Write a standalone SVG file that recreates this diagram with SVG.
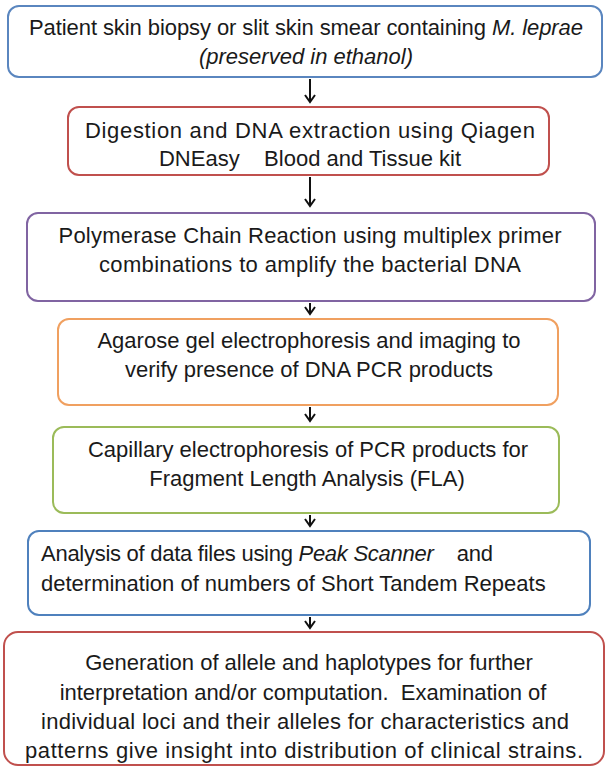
<svg xmlns="http://www.w3.org/2000/svg" width="608" height="769" viewBox="0 0 608 769">
<defs>
<marker id="ah" markerWidth="12" markerHeight="12" refX="10" refY="6" orient="auto" markerUnits="userSpaceOnUse">
<path d="M3,1 L10,6 L3,11" fill="none" stroke="#111" stroke-width="2"/>
</marker>
</defs>
<style>
.box{fill:#fff;stroke-width:2}
text{font-family:"Liberation Sans",Arial,sans-serif;font-size:22px;fill:#1a1a1a;text-anchor:middle}
text.l{text-anchor:start}
.conn{stroke:#111;stroke-width:2;fill:none}
</style>
<rect width="608" height="769" fill="#fff"/>
<g id="n1"><rect class="box" x="8" y="6" width="594" height="71" rx="11" stroke="#5a86bf"/>
<text x="306" y="35" textLength="554">Patient skin biopsy or slit skin smear containing <tspan font-style="italic">M. leprae</tspan></text>
<text x="306" y="64" font-style="italic">(preserved in ethanol)</text></g>
<g id="n2"><rect class="box" x="68" y="107" width="481" height="68" rx="11" stroke="#c0504d"/>
<text x="310" y="138" textLength="450">Digestion and DNA extraction using Qiagen</text>
<text x="310" y="166" xml:space="preserve">DNEasy    Blood and Tissue kit</text></g>
<g id="n3"><rect class="box" x="27" y="213" width="568" height="88" rx="11" stroke="#8064a2"/>
<text x="310" y="243" textLength="503">Polymerase Chain Reaction using multiplex primer</text>
<text x="310" y="272" textLength="422">combinations to amplify the bacterial DNA</text></g>
<g id="n4"><rect class="box" x="58" y="319" width="500" height="86" rx="11" stroke="#f0a060"/>
<text x="309" y="348">Agarose gel electrophoresis and imaging to</text>
<text x="309" y="377">verify presence of DNA PCR products</text></g>
<g id="n5"><rect class="box" x="53" y="427" width="506" height="86" rx="11" stroke="#9bbb59"/>
<text x="308" y="457">Capillary electrophoresis of PCR products for</text>
<text x="307" y="486">Fragment Length Analysis (FLA)</text></g>
<g id="n6"><rect class="box" x="28" y="531" width="562" height="84" rx="11" stroke="#4f81bd"/>
<text class="l" x="41" y="561" xml:space="preserve" textLength="452">Analysis of data files using <tspan font-style="italic">Peak Scanner</tspan>    and</text>
<text class="l" x="41" y="591">determination of numbers of Short Tandem Repeats</text></g>
<g id="n7"><rect class="box" x="4" y="632" width="600" height="133" rx="14" stroke="#c0504d"/>
<text x="309" y="670">Generation of allele and haplotypes for further</text>
<text x="303" y="700" xml:space="preserve">interpretation and/or computation.  Examination of</text>
<text x="305" y="729" textLength="528">individual loci and their alleles for characteristics and</text>
<text x="304" y="758" textLength="558">patterns give insight into distribution of clinical strains.</text></g>
<g id="connectors">
<line class="conn" x1="310" y1="79" x2="310" y2="102" marker-end="url(#ah)"/>
<line class="conn" x1="310" y1="177" x2="310" y2="206" marker-end="url(#ah)"/>
<line class="conn" x1="310" y1="303" x2="310" y2="314" marker-end="url(#ah)"/>
<line class="conn" x1="310" y1="407" x2="310" y2="421" marker-end="url(#ah)"/>
<line class="conn" x1="310" y1="515" x2="310" y2="526" marker-end="url(#ah)"/>
<line class="conn" x1="310" y1="617" x2="310" y2="628" marker-end="url(#ah)"/>
</g>
</svg>
